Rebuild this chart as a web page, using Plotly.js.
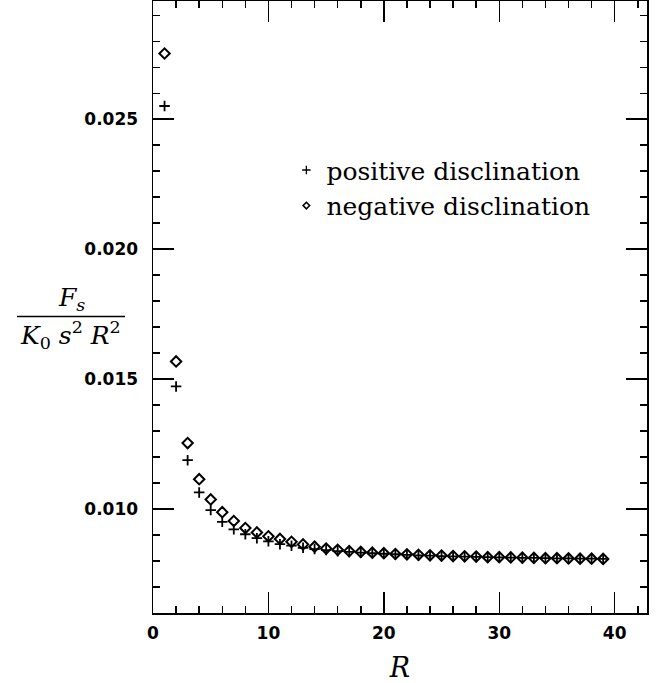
<!DOCTYPE html>
<html>
<head>
<meta charset="utf-8">
<script src="https://cdn.plot.ly/plotly-3.0.1.min.js"></script>
<style>html,body{margin:0;padding:0;background:#fff;}#chart{width:663px;height:683px;}</style>
</head>
<body>
<div id="chart"></div>
<script>
// Disclination size R
var R = [1,2,3,4,5,6,7,8,9,10,11,12,13,14,15,16,17,18,19,20,21,22,23,24,25,26,27,28,29,30,31,32,33,34,35,36,37,38,39];
// F_s / (K0 s^2 R^2), positive disclination
var positive = [0.02551,0.01472,0.01188,0.01064,0.00996,0.00951,0.00922,0.00903,0.00888,0.00876,
  0.00865,0.00859,0.00851,0.00846,0.00842,0.00838,0.00835,0.00832,0.00830,0.00828,
  0.00826,0.00824,0.00822,0.00821,0.00819,0.00818,0.00817,0.00816,0.00815,0.00814,
  0.00813,0.00812,0.00812,0.00811,0.00810,0.00810,0.00809,0.00809,0.00808];
// F_s / (K0 s^2 R^2), negative disclination
var negative = [0.02753,0.01568,0.01254,0.01115,0.01037,0.00988,0.00954,0.00927,0.00910,0.00895,
  0.00885,0.00874,0.00864,0.00855,0.00848,0.00843,0.00838,0.00835,0.00832,0.00830,
  0.00827,0.00826,0.00824,0.00822,0.00821,0.00819,0.00818,0.00817,0.00815,0.00815,
  0.00814,0.00813,0.00812,0.00811,0.00811,0.00810,0.00809,0.00809,0.00808];
var seriesNames = ['positive disclination', 'negative disclination'];
var xTitle = 'R';
var yNumerator = '<i>F</i><sub><i>s</i></sub>';
var yDenominator = '<i>K</i><sub>0</sub> <i>s</i><sup>2</sup> <i>R</i><sup>2</sup>';

var traces = [
  {x: R, y: positive, type: 'scatter', mode: 'markers', showlegend: false, name: seriesNames[0],
   marker: {symbol: 'cross-thin-open', size: 7.5, color: '#000', line: {color: '#000', width: 1.8}}},
  {x: R, y: negative, type: 'scatter', mode: 'markers', showlegend: false, name: seriesNames[1],
   marker: {symbol: 'diamond-open', size: 8, color: '#000', line: {color: '#000', width: 2}}},
  // legend proxies (smaller symbols, no data)
  {x: [null], y: [null], type: 'scatter', mode: 'markers', name: seriesNames[0],
   marker: {symbol: 'cross-thin-open', size: 6, color: '#000', line: {color: '#000', width: 1.3}}},
  {x: [null], y: [null], type: 'scatter', mode: 'markers', name: seriesNames[1],
   marker: {symbol: 'diamond-open', size: 5, color: '#000', line: {color: '#000', width: 1.6}}}
];

var axisCommon = {
  showgrid: false, zeroline: false, showline: true, linecolor: '#000', linewidth: 1.5,
  mirror: 'allticks', ticks: 'inside', ticklen: 21, tickwidth: 1.5, tickcolor: '#000',
  tickfont: {family: 'DejaVu Sans', size: 17, color: '#000', weight: 'bold'}
};

var layout = {
  width: 663, height: 683,
  margin: {l: 153, r: 16, t: 1, b: 70},
  paper_bgcolor: '#fff', plot_bgcolor: '#fff',
  showlegend: true,
  legend: {x: 0.27, y: 0.761, xanchor: 'left', yanchor: 'top', bgcolor: 'rgba(0,0,0,0)',
           font: {family: 'DejaVu Serif', size: 25, color: '#000'}, tracegroupgap: 0, itemwidth: 30},
  xaxis: Object.assign({}, axisCommon, {
    range: [0, 42.8], tick0: 0, dtick: 10,
    ticklabelstandoff: 4,
    minor: {ticks: 'inside', ticklen: 7, dtick: 2, tick0: 0, tickwidth: 1.5, tickcolor: '#000', showgrid: false},
    title: {text: '<i>' + xTitle + '</i>', font: {family: 'DejaVu Serif', size: 27, color: '#000'}, standoff: 18}
  }),
  yaxis: Object.assign({}, axisCommon, {
    range: [0.006, 0.02955], tick0: 0, dtick: 0.005, tickformat: '.3f',
    ticklabelstandoff: 10,
    minor: {ticks: 'inside', ticklen: 7, dtick: 0.001, tick0: 0, tickwidth: 1.5, tickcolor: '#000', showgrid: false},
    title: {text: ''}
  }),
  annotations: [
    {xref: 'paper', yref: 'paper', x: (71 - 153) / 494, y: (613 - 299) / 612, text: yNumerator,
     showarrow: false, xanchor: 'center', yanchor: 'middle',
     font: {family: 'DejaVu Serif', size: 25, color: '#000'}},
    {xref: 'paper', yref: 'paper', x: (70 - 153) / 494, y: (613 - 335) / 612, text: yDenominator,
     showarrow: false, xanchor: 'center', yanchor: 'middle',
     font: {family: 'DejaVu Serif', size: 25, color: '#000'}}
  ],
  shapes: [
    {type: 'line', xref: 'paper', yref: 'paper', x0: (17 - 153) / 494, x1: (125 - 153) / 494,
     y0: (613 - 316.5) / 612, y1: (613 - 316.5) / 612, line: {color: '#000', width: 1.5}}
  ]
};

Plotly.newPlot('chart', traces, layout, {displayModeBar: false, staticPlot: true});
</script>
</body>
</html>
